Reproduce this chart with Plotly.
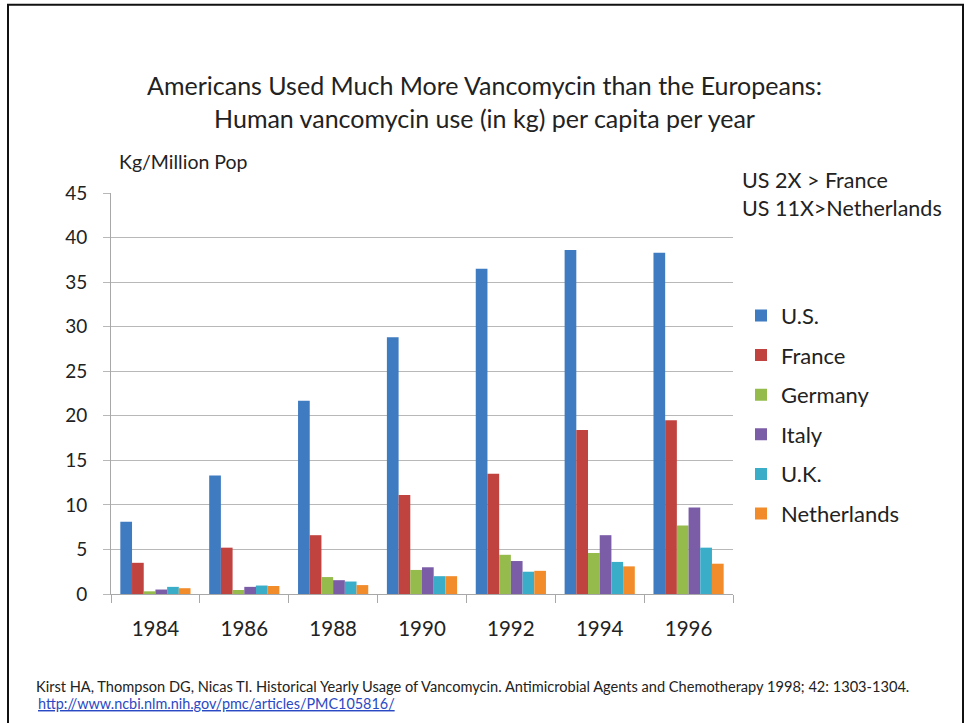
import plotly.graph_objects as go

years = ["1984", "1986", "1988", "1990", "1992", "1994", "1996"]
countries = ["U.S.", "France", "Germany", "Italy", "U.K.", "Netherlands"]
us = [8.1, 13.3, 21.7, 28.8, 36.5, 38.6, 38.3]
france = [3.5, 5.2, 6.6, 11.1, 13.5, 18.4, 19.5]
germany = [0.3, 0.45, 1.9, 2.7, 4.4, 4.6, 7.7]
italy = [0.5, 0.8, 1.55, 3.0, 3.7, 6.6, 9.7]
uk = [0.8, 0.95, 1.4, 2.0, 2.5, 3.6, 5.2]
netherlands = [0.65, 0.9, 1.0, 2.0, 2.6, 3.1, 3.4]
series = [us, france, germany, italy, uk, netherlands]
colors = ["#3f7bc1", "#c0433f", "#94bb4c", "#7b5ca6", "#3aaec9", "#f28c2b"]

W, H = 969, 723
L, R, T, B = 111, 733, 193.3, 594.3


def px(x):
    return (x - L) / (R - L)


def py(y):
    return (B - y) / (B - T)


fig = go.Figure()
for name, vals, col in zip(countries, series, colors):
    fig.add_trace(go.Bar(x=years, y=vals, name=name, marker_color=col,
                         marker_line_width=0, legendgroup=name))

font = "Lato, 'Open Sans', sans-serif"
fig.update_layout(
    width=W, height=H,
    margin=dict(l=L, r=W - R, t=T, b=H - B),
    paper_bgcolor="white", plot_bgcolor="white",
    font=dict(family=font, color="#222222"),
    barmode="group", bargap=0.21, bargroupgap=0,
    title=dict(text="Americans Used Much More Vancomycin than the Europeans:<br>"
                    "Human vancomycin use (in kg) per capita per year",
               x=0.5, xanchor="center", y=1 - 95 / H, yanchor="middle",
               font=dict(size=25, color="#222222")),
    legend=dict(x=px(741), y=py(295), xanchor="left", yanchor="top",
                font=dict(size=22), tracegroupgap=8, itemwidth=30),
    showlegend=True,
)
fig.update_xaxes(showline=True, linecolor="#a8a8a8", ticks="outside",
                 tickson="boundaries", ticklen=8, tickcolor="#a8a8a8",
                 ticklabelstandoff=16,
                 tickfont=dict(size=20.5), showgrid=False)
fig.update_yaxes(range=[0, 45], dtick=5, showline=True, linecolor="#a8a8a8",
                 ticks="outside", ticklen=7, tickcolor="#b8b8b8",
                 ticklabelstandoff=12,
                 gridcolor="#b8b8b8", tickfont=dict(size=19), zeroline=False)

fig.add_annotation(text="Kg/Million Pop", xref="paper", yref="paper",
                   x=px(117), y=py(162), xanchor="left", yanchor="middle",
                   showarrow=False, font=dict(size=19.5))
fig.add_annotation(text="US 2X > France<br>US 11X>Netherlands", xref="paper",
                   yref="paper", x=px(740), y=py(194), xanchor="left",
                   yanchor="middle", align="left", showarrow=False,
                   font=dict(size=21.5))
fig.add_annotation(text="Kirst HA, Thompson DG, Nicas TI. Historical Yearly Usage of Vancomycin. "
                        "Antimicrobial Agents and Chemotherapy 1998; 42: 1303-1304.",
                   xref="paper", yref="paper", x=px(34), y=py(687),
                   xanchor="left", yanchor="middle", showarrow=False,
                   font=dict(size=14.6))
fig.add_annotation(text="<u>http://www.ncbi.nlm.nih.gov/pmc/articles/PMC105816/</u>",
                   xref="paper", yref="paper", x=px(36), y=py(704),
                   xanchor="left", yanchor="middle", showarrow=False,
                   font=dict(size=14.4, color="#2a49c4"))

# frame around the slide
fig.add_shape(type="rect", xref="paper", yref="paper",
              x0=px(8), x1=px(963), y0=py(740), y1=py(5),
              line=dict(color="#111111", width=2))

fig.write_html("out.html", config={"displayModeBar": False},
               post_script="document.body.style.margin='0';")
